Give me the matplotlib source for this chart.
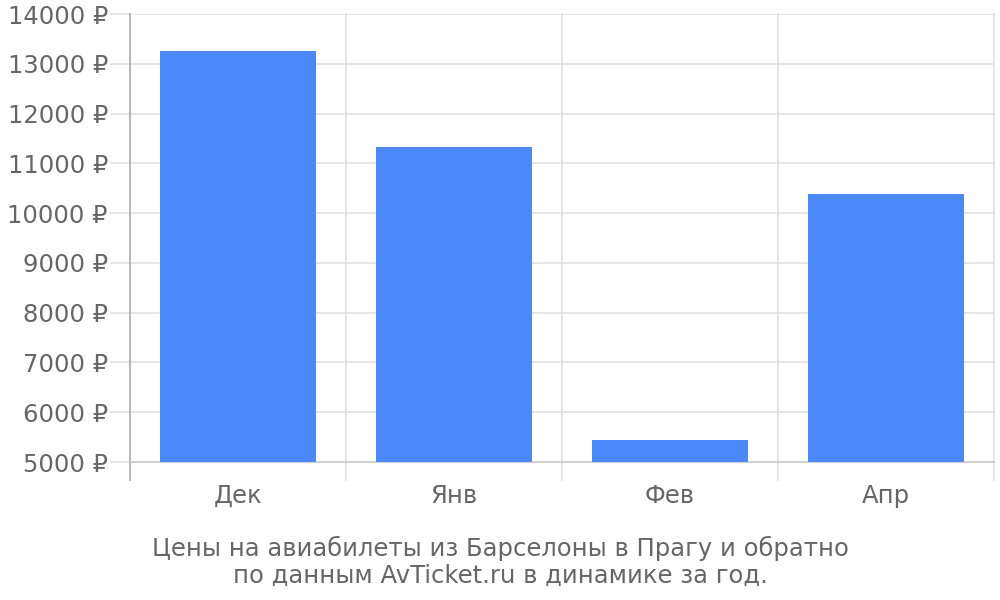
import matplotlib
matplotlib.use("Agg")
import matplotlib.pyplot as plt

categories = ["Дек", "Янв", "Фев", "Апр"]
prices = [13250, 11320, 5440, 10380]
yticks = [5000, 6000, 7000, 8000, 9000, 10000, 11000, 12000, 13000, 14000]
ytick_labels = [f"{v} ₽" for v in yticks]
caption_lines = ["Цены на авиабилеты из Барселоны в Прагу и обратно",
                 "по данным AvTicket.ru в динамике за год."]

plt.rcParams['font.family'] = ['DejaVu Sans']
fig = plt.figure(figsize=(10, 6), dpi=100)
ax = fig.add_axes([0.13, 1 - 462 / 600, 0.864, 448 / 600])

x = list(range(len(categories)))
ax.bar(x, [p - 5000 for p in prices], bottom=5000, width=0.72, color="#4b88fa", zorder=3)
ax.set_xlim(-0.5, len(categories) - 0.5)
ax.set_ylim(5000, 14000)

ax.set_yticks(yticks)
ax.set_yticklabels(ytick_labels)
ax.set_xticks(x)
ax.set_xticklabels(categories)

grid_c = "#e0e0e0"
for y in yticks[1:]:
    ax.axhline(y, color=grid_c, lw=1.2, zorder=1)
for b in [0.5, 1.5, 2.5, 3.5]:
    ax.axvline(b, color=grid_c, lw=1.2, zorder=1, clip_on=False)
ext = 9000 * 18 / 448
for b in [-0.5, 0.5, 1.5, 2.5, 3.5]:
    ax.plot([b, b], [5000, 5000 - ext], color=grid_c if b != -0.5 else "#aaaaaa",
            lw=1.2, clip_on=False, zorder=1)

for s in ["top", "right"]:
    ax.spines[s].set_visible(False)
ax.spines["left"].set_color("#aaaaaa")
ax.spines["bottom"].set_color("#c8c8c8")
ax.spines["left"].set_linewidth(1.2)
ax.spines["bottom"].set_linewidth(1.2)

ax.tick_params(axis="y", length=14.4, color=grid_c, width=1.2, labelsize=17.5, labelcolor="#666666", pad=1.5)
ax.tick_params(axis="x", length=0, labelsize=17.5, labelcolor="#666666", pad=16)

fig.text(0.5, 1 - 548 / 600, caption_lines[0], ha="center", va="center", fontsize=17.5, color="#666666")
fig.text(0.5, 1 - 576 / 600, caption_lines[1], ha="center", va="center", fontsize=17.5, color="#666666")

fig.savefig("out.png", dpi=100, facecolor="white")
